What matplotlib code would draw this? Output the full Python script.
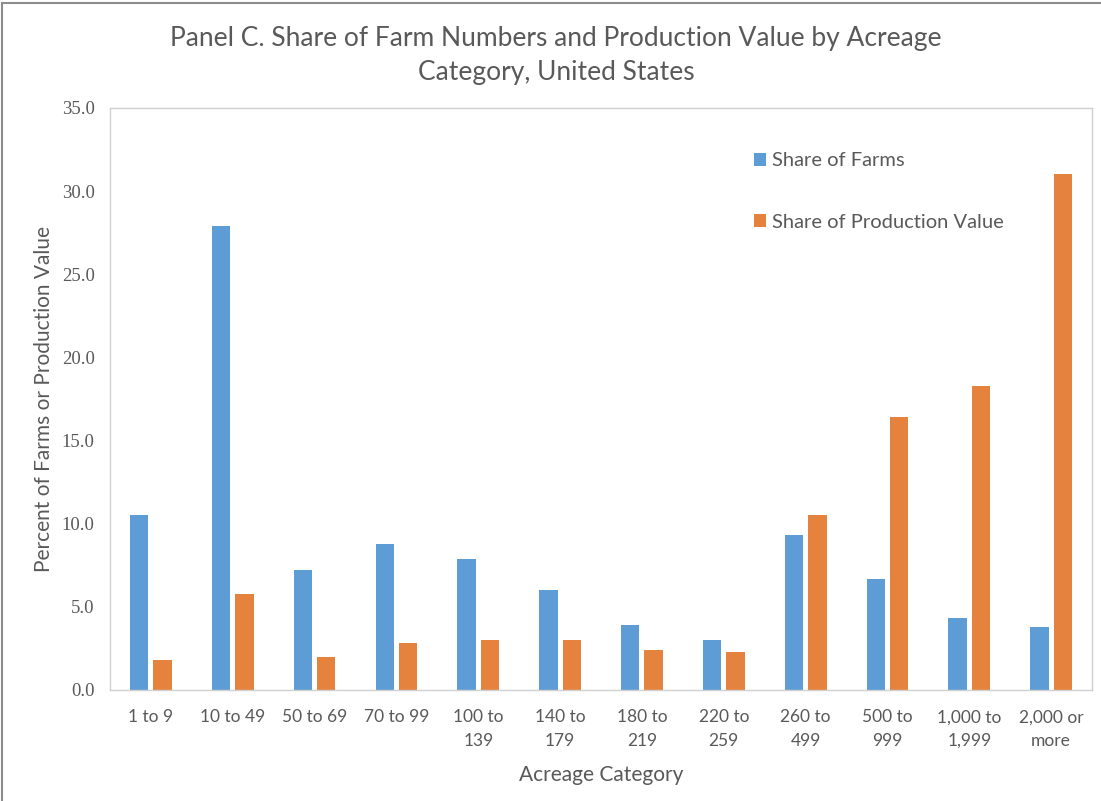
import matplotlib
matplotlib.use("Agg")
import matplotlib.pyplot as plt
import numpy as np
from matplotlib.lines import Line2D

categories = ["1 to 9", "10 to 49", "50 to 69", "70 to 99", "100 to\n139", "140 to\n179",
              "180 to\n219", "220 to\n259", "260 to\n499", "500 to\n999", "1,000 to\n1,999",
              "2,000 or\nmore"]
share_farms = [10.5, 27.9, 7.2, 8.8, 7.9, 6.0, 3.9, 3.0, 9.3, 6.7, 4.3, 3.8]
share_value = [1.8, 5.8, 2.0, 2.8, 3.0, 3.0, 2.4, 2.3, 10.5, 16.4, 18.3, 31.0]

blue = "#5E9CD6"
orange = "#E5823D"
grey_txt = "#595959"
font = ["Lato", "DejaVu Sans"]

fig = plt.figure(figsize=(11.01, 8.01), dpi=100)
# chart border (only top and left edges show)
fig.lines.append(Line2D([0.002, 0.002], [0.0, 0.996], transform=fig.transFigure,
                        color="#8c8c8c", linewidth=1.5))
fig.lines.append(Line2D([0.002, 1.0], [0.996, 0.996], transform=fig.transFigure,
                        color="#8c8c8c", linewidth=1.5))

ax = fig.add_axes([0.0999, 0.1386, 0.892, 0.7266])
x = np.arange(len(categories))
w = 0.224
ax.bar(x - 0.143, share_farms, w, color=blue, label="Share of Farms")
ax.bar(x + 0.143, share_value, w, color=orange, label="Share of Production Value")

ax.set_xlim(-0.5, len(categories) - 0.5)
ax.set_ylim(0, 35)
ax.set_yticks(np.arange(0, 35.1, 5))
ax.set_yticklabels([f"{v:.1f}" for v in np.arange(0, 35.1, 5)],
                   family=["Liberation Serif"], fontsize=13.5, color=grey_txt)
ax.set_xticks(x)
ax.set_xticklabels(categories, family=font, fontsize=12.5, color=grey_txt, linespacing=1.55)
ax.tick_params(length=0)
ax.tick_params(axis="y", pad=11)
ax.tick_params(axis="x", pad=14)
for s in ax.spines.values():
    s.set_color("#d0d0d0")
    s.set_linewidth(1)

ax.set_ylabel("Percent of Farms or Production Value", family=font, fontsize=15,
              color=grey_txt, labelpad=6)
ax.set_xlabel("Acreage Category", family=font, fontsize=15, color=grey_txt, labelpad=12)

fig.text(0.505, 0.952, "Panel C. Share of Farm Numbers and Production Value by Acreage",
         ha="center", va="center", family=font, fontsize=19, color=grey_txt)
fig.text(0.505, 0.910, "Category, United States",
         ha="center", va="center", family=font, fontsize=19, color=grey_txt)

leg = ax.legend(loc="upper left", bbox_to_anchor=(0.637, 0.955), frameon=False,
                prop={"family": font, "size": 14.5}, labelspacing=2.2,
                handlelength=0.6, handleheight=0.6, handletextpad=0.3)
for t in leg.get_texts():
    t.set_color(grey_txt)

fig.savefig("out.png", dpi=100)
